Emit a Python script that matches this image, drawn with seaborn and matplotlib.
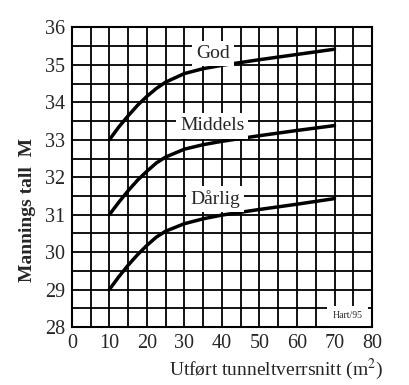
import numpy as np
import pandas as pd
import matplotlib
matplotlib.use("Agg")
import matplotlib.pyplot as plt
import seaborn as sns
from matplotlib.ticker import MultipleLocator

# tunnel cross section (m2)
areal = [10, 12.5, 15, 17.5, 20, 22.5, 25, 30, 35, 40, 50, 60, 70]
god = [33.0, 33.34, 33.64, 33.92, 34.16, 34.37, 34.54, 34.77, 34.9, 34.99, 35.14, 35.28, 35.42]
middels = [31.0, 31.33, 31.64, 31.92, 32.16, 32.38, 32.54, 32.75, 32.87, 32.96, 33.11, 33.25, 33.38]
darlig = [29.0, 29.34, 29.65, 29.93, 30.18, 30.4, 30.56, 30.76, 30.89, 30.99, 31.14, 31.28, 31.43]
navn = ["God", "Middels", "Dårlig"]

sns.set_style("white")
plt.rcParams["font.family"] = ["Liberation Serif", "DejaVu Serif"]
plt.rcParams["mathtext.fontset"] = "stix"

fig = plt.figure(figsize=(4.09, 3.85), dpi=100)
ax = fig.add_axes([0.1756, 0.1506, 0.734, 0.778])

for serie in [god, middels, darlig]:
    sns.lineplot(x=areal, y=serie, color="black", linewidth=2.5, ax=ax, zorder=4,
                 solid_joinstyle="round")

ax.set_xlim(0, 80)
ax.set_ylim(28, 36)
ax.xaxis.set_major_locator(MultipleLocator(10))
ax.xaxis.set_minor_locator(MultipleLocator(5))
ax.yaxis.set_major_locator(MultipleLocator(1))
ax.yaxis.set_minor_locator(MultipleLocator(0.5))
ax.set_axisbelow(True)
ax.grid(which="both", color="black", linewidth=1.3)
ax.tick_params(which="both", length=0, labelsize=14.5)
ax.tick_params(axis="x", pad=5)
ax.tick_params(axis="y", pad=5)
for s in ax.spines.values():
    s.set_color("black")
    s.set_linewidth(1.5)

# curve labels with white boxes over the grid
box = dict(facecolor="white", edgecolor="none", pad=3)
ax.text(37.55, 35.18, navn[0], ha="center", va="baseline", fontsize=14, bbox=box, zorder=5)
ax.text(37.4, 33.25, navn[1], ha="center", va="baseline", fontsize=14, bbox=box, zorder=5)
ax.text(38.2, 31.29, navn[2], ha="center", va="baseline", fontsize=14, bbox=box, zorder=5)
ax.text(73.4, 28.23, "Hart/95", ha="center", va="baseline", fontsize=7,
        bbox=dict(facecolor="white", edgecolor="none", pad=4), zorder=5)

ax.set_xlabel("Utført tunneltverrsnitt (m$^2$)", fontsize=14)
ax.set_ylabel("Mannings tall  M", fontsize=14, fontweight="bold")
ax.xaxis.set_label_coords(0.68, -0.1)
ax.yaxis.set_label_coords(-0.12, 0.39)

fig.savefig("out.png", dpi=100)
